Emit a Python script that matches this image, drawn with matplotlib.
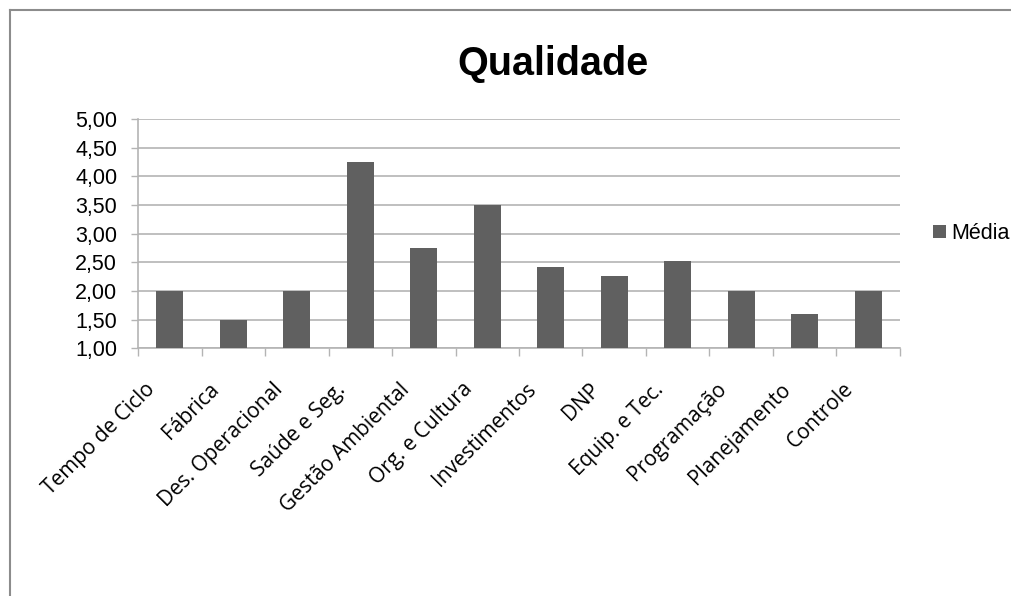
import matplotlib
matplotlib.use("Agg")
import matplotlib.pyplot as plt
from matplotlib.lines import Line2D
from matplotlib.transforms import ScaledTranslation
import numpy as np

categories = ["Tempo de Ciclo", "Fábrica", "Des. Operacional", "Saúde e Seg.",
              "Gestão Ambiental", "Org. e Cultura", "Investimentos", "DNP",
              "Equip. e Tec.", "Programação", "Planejamento", "Controle"]
media = [2.00, 1.50, 2.00, 4.25, 2.75, 3.50, 2.42, 2.27, 2.52, 2.00, 1.60, 2.00]
y_ticks = [1.0, 1.5, 2.0, 2.5, 3.0, 3.5, 4.0, 4.5, 5.0]

bar_color = "#606060"
grid_color = "#b4b4b4"

fig = plt.figure(figsize=(10.12, 5.96), dpi=100)
ax = fig.add_axes([0.1364, 0.4156, 0.7529, 0.3847])

x = np.arange(len(categories))
ax.bar(x, media, width=0.43, color=bar_color, label="Média", zorder=3)

ax.set_xlim(-0.5, len(categories) - 0.5)
ax.set_ylim(1.0, 5.0)
ax.set_yticks(y_ticks)
ax.set_yticklabels([f"{v:.2f}".replace(".", ",") for v in y_ticks],
                   fontsize=15.5, family="Liberation Sans")
ax.yaxis.grid(True, color=grid_color, linewidth=1.2, zorder=0)
ax.tick_params(axis="y", length=5, width=1, color=grid_color, pad=10)

# category labels on major ticks, boundary ticks as minor ticks
ax.set_xticks(x)
ax.set_xticklabels(categories, rotation=45, ha="right", rotation_mode="anchor",
                   fontsize=15, family="Open Sans")
ax.tick_params(axis="x", which="major", length=0, pad=22)
shift = ScaledTranslation(-25 / 100, 0, fig.dpi_scale_trans)
for lbl in ax.get_xticklabels():
    lbl.set_transform(lbl.get_transform() + shift)
ax.set_xticks(np.arange(-0.5, len(categories)), minor=True)
ax.tick_params(axis="x", which="minor", length=6, width=1, color=grid_color)

for s in ["top", "right"]:
    ax.spines[s].set_visible(False)
for s in ["left", "bottom"]:
    ax.spines[s].set_color(grid_color)
    ax.spines[s].set_linewidth(1.2)

fig.text(0.546, 0.893, "Qualidade", ha="center", va="center",
         fontsize=28.5, fontweight="bold", family="Liberation Sans")

ax.legend(loc="center left", bbox_to_anchor=(1.018, 0.5), frameon=False,
          prop={"family": "Liberation Sans", "size": 15.5},
          handlelength=0.6, handleheight=0.6, handletextpad=0.25)

# outer chart frame (only top and left edges visible)
fig.add_artist(Line2D([0.0099, 1.0], [1 - 9.5 / 596, 1 - 9.5 / 596],
                      transform=fig.transFigure, color="#8c8c8c", linewidth=1.5))
fig.add_artist(Line2D([0.0099, 0.0099], [0.0, 1 - 9.5 / 596],
                      transform=fig.transFigure, color="#8c8c8c", linewidth=1.5))

fig.savefig("out.png", dpi=100)
